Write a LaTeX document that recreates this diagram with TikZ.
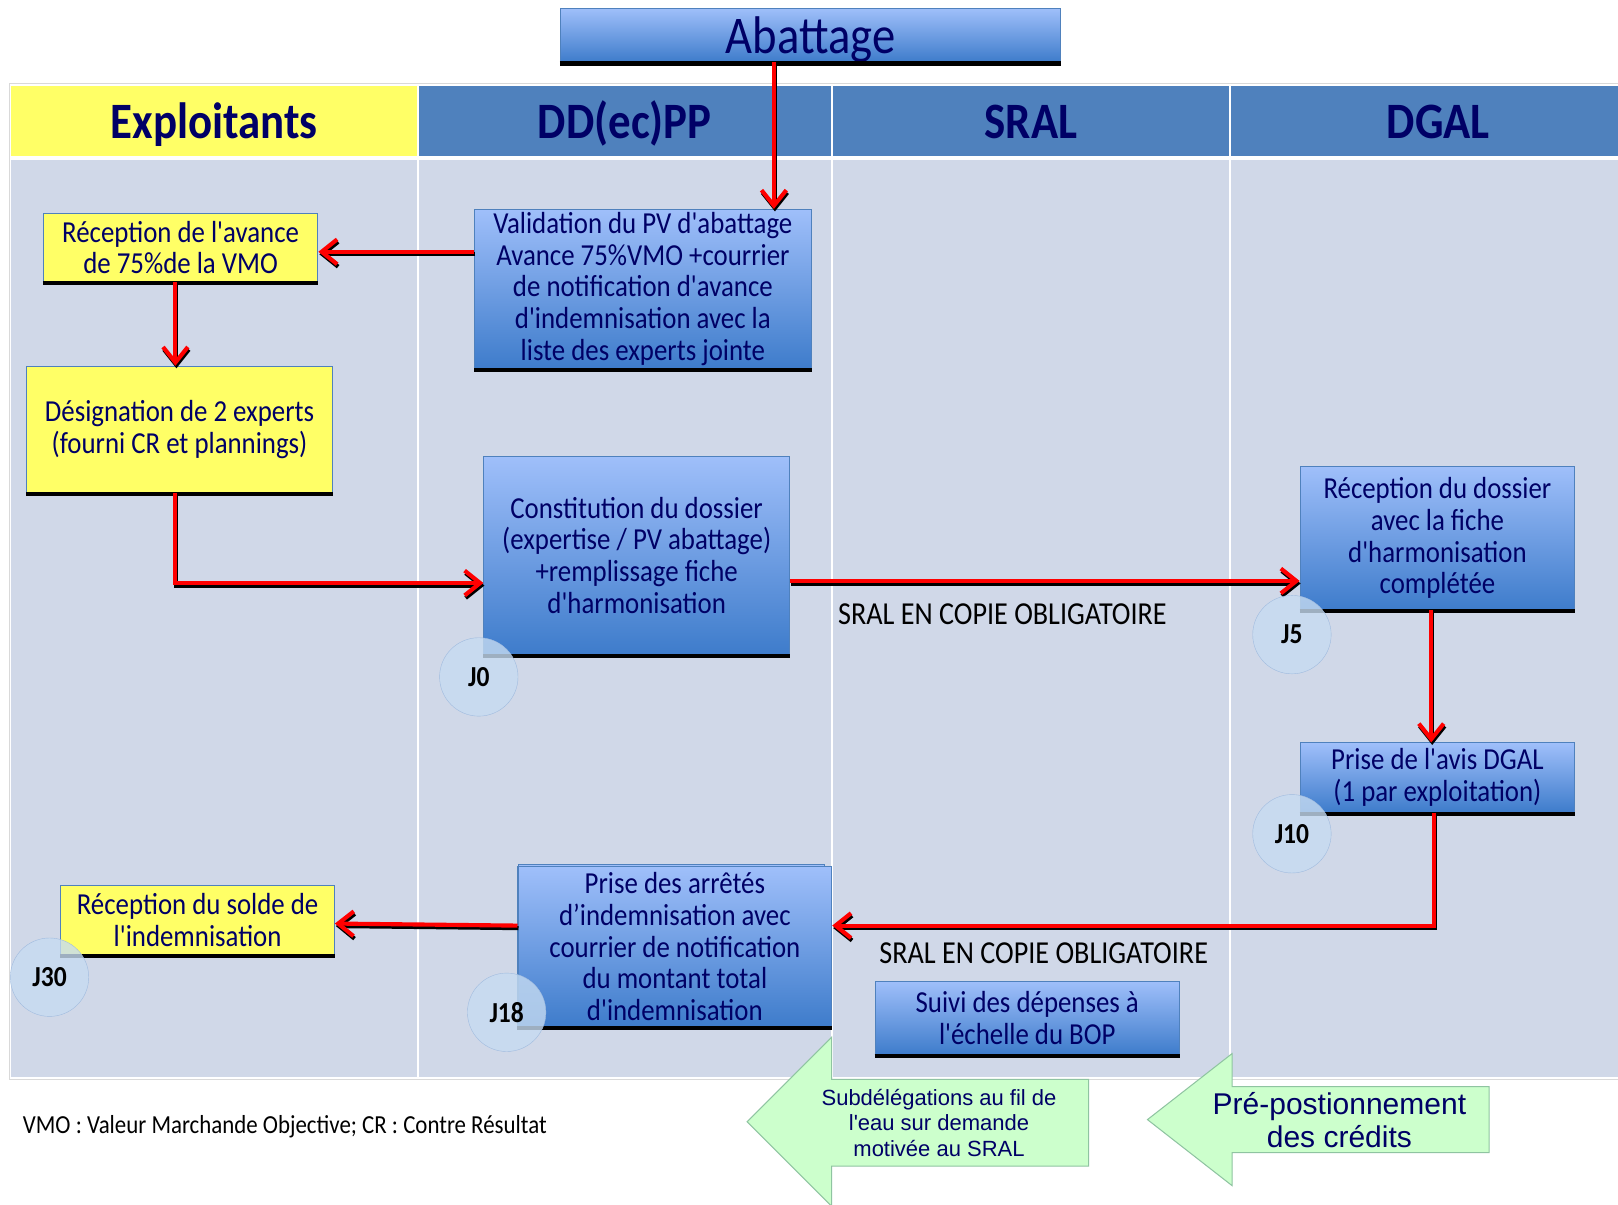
\documentclass[tikz,border=0pt]{standalone}
\usepackage{fontspec}
\usetikzlibrary{arrows.meta}

\newfontfamily\boxfont[FakeStretch=0.88]{Carlito}
\newfontfamily\arrowfont{Liberation Sans}

\newlength{\du}
\setlength{\du}{1.031888\unitlength}

\definecolor{lanegrey}{rgb}{0.815686, 0.847059, 0.909804}
\definecolor{headblue}{rgb}{0.309804, 0.505882, 0.741176}
\definecolor{headyellow}{rgb}{1.000000, 1.000000, 0.400000}
\definecolor{boxtop}{rgb}{0.623529, 0.749020, 0.980392}
\definecolor{boxbot}{rgb}{0.243137, 0.486275, 0.796078}
\definecolor{boxedge}{rgb}{0.309804, 0.505882, 0.741176}
\definecolor{navytext}{rgb}{0.000000, 0.000000, 0.400000}
\definecolor{circfill}{rgb}{0.776471, 0.858824, 0.945098}
\definecolor{circedge}{rgb}{0.627451, 0.733333, 0.874510}
\definecolor{arrowgreen}{rgb}{0.800000, 1.000000, 0.800000}
\definecolor{arrowedge}{rgb}{0.560784, 0.768627, 0.631373}
\definecolor{framegrey}{rgb}{0.850980, 0.850980, 0.850980}

\tikzset{
  basebox/.style={draw=boxedge, line width=1\du, text=navytext, align=center,
    inner sep=0pt, font=\boxfont\fontsize{30.5}{31.7}\selectfont},
  bluebox/.style={basebox, top color=boxtop, bottom color=boxbot},
  yellowbox/.style={basebox, fill=headyellow},
  headcell/.style={minimum height=68\du, inner sep=0pt, text=navytext,
    text height=36pt, text depth=0pt,
    font=\boxfont\bfseries\fontsize{51}{54}\selectfont},
  bottombar/.style={line width=4\du, black},
  redarrow/.style={draw=red, line width=4\du,
    -{Straight Barb[length=15.5pt,width=24.8pt]}},
  redshadow/.style={redarrow, draw=black,
    transform canvas={shift={(1pt,-2.5pt)}}},
  jcirc/.style={circle, draw=circedge, fill=circfill, fill opacity=0.8,
    text opacity=1, minimum size=76\du, inner sep=0pt, text=black,
    font=\boxfont\bfseries\fontsize{29}{30}\selectfont},
  copie/.style={anchor=west, inner sep=0pt, text=black,
    font=\boxfont\fontsize{32}{33}\selectfont},
  greenarrow/.style={draw=arrowedge, fill=arrowgreen, line width=1\du},
  arrowtext/.style={align=center, inner sep=0pt, text=navytext}
}

% trait rouge avec son ombre noire
\newcommand{\redlink}[1]{\draw[redshadow] #1; \draw[redarrow] #1;}

\begin{document}
\begin{tikzpicture}
\pgftransformxscale{1.000000}
\pgftransformyscale{-1.000000}
\useasboundingbox (0\du,0\du) rectangle (1568\du,1167\du);
\fill[white] (0\du,0\du) rectangle (1568\du,1167\du);

% couloirs
\draw[framegrey, fill=white] (9\du,81\du) rectangle (1600\du,1046\du);
\fill[lanegrey] (11\du,155\du) rectangle (404\du,1044\du);
\fill[lanegrey] (406\du,155\du) rectangle (805\du,1044\du);
\fill[lanegrey] (807\du,155\du) rectangle (1191\du,1044\du);
\fill[lanegrey] (1193\du,155\du) rectangle (1598\du,1044\du);

\node[headcell, fill=headyellow, minimum width=393\du] (hexpl) at (207.5\du,117\du) {Exploitants};
\node[headcell, fill=headblue, minimum width=399\du] (hdd) at (605.5\du,117\du) {DD(ec)PP};
\node[headcell, fill=headblue, minimum width=384\du] (hsral) at (999\du,117\du) {SRAL};
\node[headcell, fill=headblue, minimum width=402\du] (hdgal) at (1394\du,117\du) {DGAL};

% etapes
\node[bluebox, minimum width=485\du, minimum height=52\du, text height=36pt, text depth=0pt,
  font=\boxfont\fontsize{53}{54}\selectfont] (abat) at (785.5\du,34\du) {Abattage};
\node[yellowbox, minimum width=266\du, minimum height=66\du] (avance) at (175\du,240\du)
  {Réception de l'avance\\de 75\%de la VMO};
\node[bluebox, minimum width=326\du, minimum height=154\du] (valid) at (623\du,280\du)
  {Validation du PV d'abattage\\Avance 75\%VMO +courrier\\de notification d'avance\\d'indemnisation avec la\\liste des experts jointe};
\node[yellowbox, minimum width=296\du, minimum height=122\du] (design) at (174\du,416\du)
  {Désignation de 2 experts\\(fourni CR et plannings)};
\node[bluebox, minimum width=296\du, minimum height=192\du] (constit) at (617\du,538\du)
  {Constitution du dossier\\(expertise / PV abattage)\\+remplissage fiche\\d'harmonisation};
\node[bluebox, minimum width=266\du, minimum height=139\du] (recep) at (1393\du,521.5\du)
  {Réception du dossier\\avec la fiche\\d'harmonisation\\complétée};
\node[bluebox, minimum width=266\du, minimum height=67\du] (avis) at (1393\du,753.5\du)
  {Prise de l'avis DGAL\\(1 par exploitation)};
\draw[boxedge, fill=boxtop] (502\du,837\du) rectangle (799\du,990\du);
\node[bluebox, minimum width=304\du, minimum height=155\du] (arretes) at (654\du,917.5\du)
  {Prise des arrêtés\\d’indemnisation avec\\courrier de notification\\du montant total\\d'indemnisation};
\node[yellowbox, minimum width=265\du, minimum height=67\du] (solde) at (191.5\du,891.5\du)
  {Réception du solde de\\l'indemnisation};
\node[bluebox, minimum width=295\du, minimum height=71\du] (bop) at (995.5\du,986.5\du)
  {Suivi des dépenses à\\l'échelle du BOP};

\foreach \n in {abat,avance,valid,design,constit,recep,avis,arretes,solde,bop}
  \draw[bottombar] ([yshift=1\du]\n.south west) -- ([yshift=1\du]\n.south east);

% fleches
\coordinate (abatout) at ([xshift=-35.5\du]abat.south);
\coordinate (validout) at ([yshift=-36\du]valid.west);
\coordinate (avanceout) at ([xshift=-5\du]avance.south);
\coordinate (designout) at ([xshift=-4\du]design.south);
\coordinate (constitin) at ([yshift=27\du]constit.west);
\coordinate (constitout) at ([yshift=25\du]constit.east);
\coordinate (recepout) at ([xshift=-6\du]recep.south);
\coordinate (avisout) at ([xshift=-3\du]avis.south);
\coordinate (arretesin) at ([yshift=-20.5\du]arretes.east);
\coordinate (arretesout) at ([yshift=-20.5\du]arretes.west);
\coordinate (soldein) at ([yshift=3.5\du]solde.east);

\redlink{(abatout) -- (abatout |- valid.north)}
\redlink{(validout) -- (validout -| avance.east)}
\redlink{(avanceout) -- (avanceout |- design.north)}
\redlink{(designout) |- (constitin)}
\redlink{(constitout) -- (constitout -| recep.west)}
\redlink{(recepout) -- (recepout |- avis.north)}
\redlink{(avisout) |- (arretesin)}
\redlink{(arretesout) -- (soldein)}

\node[jcirc] (j0) at (464\du,656\du) {J0};
\node[jcirc] (j5) at (1252\du,615\du) {J5};
\node[jcirc] (j10) at (1252\du,808\du) {J10};
\node[jcirc] (j30) at (48\du,947\du) {J30};
\node[jcirc] (j18) at (491\du,981\du) {J18};

\node[copie] (copie1) at (812\du,595\du) {SRAL EN COPIE OBLIGATOIRE};
\node[copie] (copie2) at (852\du,924\du) {SRAL EN COPIE OBLIGATOIRE};
\node[copie, font=\boxfont\fontsize{26}{27}\selectfont] (note) at (22\du,1092\du)
  {VMO : Valeur Marchande Objective; CR : Contre Résultat};

% credits
\draw[greenarrow] (1055\du,1046\du) -- (806\du,1046\du) -- (806\du,1005\du) -- (724\du,1087\du)
  -- (806\du,1169\du) -- (806\du,1130\du) -- (1055\du,1130\du) -- cycle;
\node[arrowtext, font=\arrowfont\fontsize{22}{25.3}\selectfont] (subdel) at (910\du,1088\du)
  {Subdélégations au fil de\\l'eau sur demande\\motivée au SRAL};
\draw[greenarrow] (1443\du,1053\du) -- (1194\du,1053\du) -- (1194\du,1021\du) -- (1112\du,1085\du)
  -- (1194\du,1149\du) -- (1194\du,1117\du) -- (1443\du,1117\du) -- cycle;
\node[arrowtext, font=\arrowfont\fontsize{30}{33}\selectfont] (prepos) at (1298\du,1085\du)
  {Pré-postionnement\\des crédits};
\end{tikzpicture}
\end{document}
